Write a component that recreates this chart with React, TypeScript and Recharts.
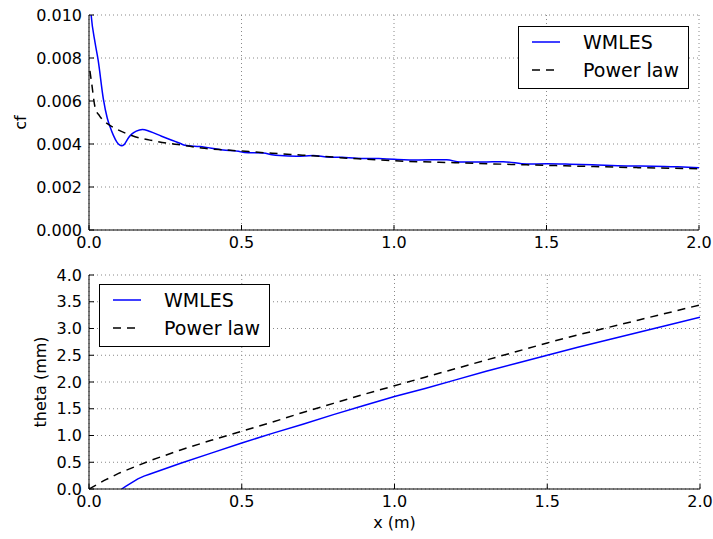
import { LineChart, Line, XAxis, YAxis, CartesianGrid, Legend } from 'recharts';

const FONT = '"DejaVu Sans", sans-serif';

const xTicks = [0, 0.5, 1.0, 1.5, 2.0];
const cfTicks = [0, 0.002, 0.004, 0.006, 0.008, 0.01];
const thetaTicks = [0, 0.5, 1.0, 1.5, 2.0, 2.5, 3.0, 3.5, 4.0];

// skin friction, WMLES
const cfWmlesX = [0, 0.007, 0.02, 0.03, 0.047, 0.06, 0.069, 0.08, 0.091, 0.1, 0.107, 0.115, 0.13, 0.14, 0.155, 0.175, 0.2, 0.238, 0.282, 0.3, 0.315, 0.364, 0.44, 0.49, 0.51, 0.572, 0.6, 0.626, 0.68, 0.735, 0.78, 0.83, 0.877, 0.95, 1.0, 1.08, 1.173, 1.216, 1.29, 1.358, 1.435, 1.5, 1.577, 1.65, 1.763, 1.85, 1.93, 2.0];
const cfWmlesY = [0.0114, 0.01, 0.0087, 0.0079, 0.0061, 0.0052, 0.0048, 0.0044, 0.0041, 0.00396, 0.00392, 0.00397, 0.0043, 0.00446, 0.0046, 0.00468, 0.00458, 0.00436, 0.00412, 0.00402, 0.00394, 0.00388, 0.00372, 0.00366, 0.0036, 0.00358, 0.0035, 0.00346, 0.00343, 0.00346, 0.0034, 0.00338, 0.00334, 0.00332, 0.00329, 0.00326, 0.00327, 0.00316, 0.00316, 0.00318, 0.00307, 0.00308, 0.00306, 0.00303, 0.00298, 0.00297, 0.00294, 0.0029];

// skin friction, power law
const cfPowerX = [0.003, 0.009, 0.02, 0.035, 0.047, 0.065, 0.085, 0.12, 0.151, 0.2, 0.26, 0.3, 0.369, 0.45, 0.5, 0.6, 0.7, 0.8, 0.856, 0.9, 1.0, 1.2, 1.435, 1.6, 1.8, 2.0];
const cfPowerY = [0.0074, 0.0068, 0.0057, 0.0053, 0.0051, 0.0049, 0.00473, 0.0045, 0.00434, 0.00418, 0.00403, 0.00396, 0.00381, 0.00372, 0.00367, 0.00357, 0.00348, 0.00339, 0.00333, 0.0033, 0.00322, 0.00313, 0.00303, 0.00297, 0.0029, 0.00285];

// momentum thickness (mm)
const thetaWmlesX = [0.107, 0.12, 0.14, 0.16, 0.18, 0.2, 0.3, 0.4, 0.5, 0.6, 0.7, 0.8, 0.9, 1.0, 1.1, 1.2, 1.3, 1.4, 1.5, 1.6, 1.7, 1.8, 1.9, 2.0];
const thetaWmlesY = [0, 0.05, 0.12, 0.19, 0.24, 0.28, 0.48, 0.67, 0.86, 1.04, 1.21, 1.39, 1.56, 1.73, 1.88, 2.04, 2.2, 2.35, 2.5, 2.65, 2.79, 2.93, 3.07, 3.21];

const thetaPowerX = [0, 0.05, 0.1, 0.2, 0.3, 0.4, 0.5, 0.6, 0.7, 0.8, 0.9, 1.0, 1.1, 1.2, 1.3, 1.4, 1.5, 1.6, 1.7, 1.8, 1.9, 2.0];
const thetaPowerY = [0, 0.16, 0.3, 0.53, 0.73, 0.91, 1.08, 1.25, 1.43, 1.6, 1.77, 1.93, 2.09, 2.25, 2.41, 2.57, 2.73, 2.88, 3.02, 3.16, 3.3, 3.44];

const seriesNames = ['WMLES', 'Power law'];

const toRows = (xs: number[], ys: number[]) => xs.map((x, i) => ({ x, y: ys[i] }));

const BLUE = '#0000ff';
const DASH = '8 6';
const tickStyle = { fontFamily: FONT, fontSize: 16, fill: '#000' };

const LegendBox = () => (
    <div
        style={{
            width: 171,
            height: 63,
            border: '1px solid #000',
            background: '#fff',
            boxSizing: 'border-box',
            position: 'relative',
            fontFamily: FONT,
            fontSize: 19,
            color: '#000',
        }}
    >
        {seriesNames.map((name, i) => (
            <div
                key={name}
                style={{ position: 'absolute', left: 0, top: i === 0 ? 2 : 30, height: 26, display: 'flex', alignItems: 'center' }}
            >
                <svg width={28} height={4} style={{ marginLeft: 13 }}>
                    <line
                        x1={0}
                        y1={2}
                        x2={28}
                        y2={2}
                        stroke={i === 0 ? BLUE : '#000'}
                        strokeWidth={1.5}
                        strokeDasharray={i === 0 ? undefined : DASH}
                    />
                </svg>
                <span style={{ marginLeft: 23, lineHeight: '26px' }}>{name}</span>
            </div>
        ))}
    </div>
);

const yTitle = (text: string, dx: number) => (props: any) => {
    const vb = props.viewBox || { x: 0, y: 0, width: 0, height: 0 };
    const cx = vb.x + dx;
    const cy = vb.y + vb.height / 2;
    return (
        <text
            x={cx}
            y={cy}
            transform={`rotate(-90, ${cx}, ${cy})`}
            textAnchor="middle"
            dominantBaseline="central"
            fontFamily={FONT}
            fontSize={16}
            fill="#000"
        >
            {text}
        </text>
    );
};

const xTitle = (props: any) => {
    const vb = props.viewBox || { x: 0, y: 0, width: 0, height: 0 };
    return (
        <text
            x={vb.x + vb.width / 2}
            y={vb.y + 33}
            textAnchor="middle"
            dominantBaseline="central"
            fontFamily={FONT}
            fontSize={16}
            fill="#000"
        >
            x (m)
        </text>
    );
};

function Frame({ yTicks, yDomain }: { yTicks: number[]; yDomain: [number, number] }) {
    return (
        <>
            <XAxis
                xAxisId="top"
                orientation="top"
                type="number"
                dataKey="x"
                domain={[0, 2]}
                ticks={xTicks}
                height={0}
                tick={false}
                tickSize={-5}
                stroke="#000"
            />
            <YAxis
                yAxisId="right"
                orientation="right"
                type="number"
                dataKey="y"
                domain={yDomain}
                ticks={yTicks}
                width={0}
                tick={false}
                tickSize={-5}
                stroke="#000"
            />
        </>
    );
}

export default function App() {
    return (
        <div style={{ position: 'absolute', left: 0, top: 0, width: 713, height: 539, background: '#fff' }}>
            <div style={{ position: 'absolute', left: 0, top: 0 }}>
                <LineChart width={713} height={260} margin={{ top: 15, right: 14, bottom: 0, left: 0 }}>
                    <CartesianGrid stroke="#888" strokeDasharray="1 3" />
                    <XAxis
                        type="number"
                        dataKey="x"
                        domain={[0, 2]}
                        ticks={xTicks}
                        allowDataOverflow
                        height={30}
                        tickSize={-5}
                        tickMargin={12}
                        tick={tickStyle}
                        tickFormatter={(v: number) => v.toFixed(1)}
                        stroke="#000"
                    />
                    <YAxis
                        type="number"
                        dataKey="y"
                        domain={[0, 0.01]}
                        ticks={cfTicks}
                        allowDataOverflow
                        width={89}
                        tickSize={-5}
                        tickMargin={12}
                        tick={tickStyle}
                        tickFormatter={(v: number) => v.toFixed(3)}
                        stroke="#000"
                        label={yTitle('cf', 20)}
                    />
                    {Frame({ yTicks: cfTicks, yDomain: [0, 0.01] })}
                    <Line
                        data={toRows(cfWmlesX, cfWmlesY)}
                        dataKey="y"
                        name={seriesNames[0]}
                        type="monotone"
                        stroke={BLUE}
                        strokeWidth={1.5}
                        dot={false}
                        activeDot={false}
                        isAnimationActive={false}
                    />
                    <Line
                        data={toRows(cfPowerX, cfPowerY)}
                        dataKey="y"
                        name={seriesNames[1]}
                        type="monotone"
                        stroke="#000"
                        strokeWidth={1.5}
                        strokeDasharray={DASH}
                        dot={false}
                        activeDot={false}
                        isAnimationActive={false}
                    />
                    <Legend
                        layout="horizontal"
                        verticalAlign="middle"
                        align="center"
                        content={() => <LegendBox />}
                        wrapperStyle={{ left: 518, top: 26, width: 171, height: 63 }}
                    />
                </LineChart>
            </div>
            <div style={{ position: 'absolute', left: 0, top: 260 }}>
                <LineChart width={713} height={279} margin={{ top: 15, right: 13, bottom: 0, left: 0 }}>
                    <CartesianGrid stroke="#888" strokeDasharray="1 3" />
                    <XAxis
                        type="number"
                        dataKey="x"
                        domain={[0, 2]}
                        ticks={xTicks}
                        allowDataOverflow
                        height={50}
                        tickSize={-5}
                        tickMargin={12}
                        tick={tickStyle}
                        tickFormatter={(v: number) => v.toFixed(1)}
                        stroke="#000"
                        label={xTitle}
                    />
                    <YAxis
                        type="number"
                        dataKey="y"
                        domain={[0, 4]}
                        ticks={thetaTicks}
                        allowDataOverflow
                        width={89}
                        tickSize={-5}
                        tickMargin={12}
                        tick={tickStyle}
                        tickFormatter={(v: number) => v.toFixed(1)}
                        stroke="#000"
                        label={yTitle('theta (mm)', 40)}
                    />
                    {Frame({ yTicks: thetaTicks, yDomain: [0, 4] })}
                    <Line
                        data={toRows(thetaWmlesX, thetaWmlesY)}
                        dataKey="y"
                        name={seriesNames[0]}
                        type="linear"
                        stroke={BLUE}
                        strokeWidth={1.5}
                        dot={false}
                        activeDot={false}
                        isAnimationActive={false}
                    />
                    <Line
                        data={toRows(thetaPowerX, thetaPowerY)}
                        dataKey="y"
                        name={seriesNames[1]}
                        type="linear"
                        stroke="#000"
                        strokeWidth={1.5}
                        strokeDasharray={DASH}
                        dot={false}
                        activeDot={false}
                        isAnimationActive={false}
                    />
                    <Legend
                        layout="horizontal"
                        verticalAlign="middle"
                        align="center"
                        content={() => <LegendBox />}
                        wrapperStyle={{ left: 99, top: 24, width: 171, height: 63 }}
                    />
                </LineChart>
            </div>
        </div>
    );
}
